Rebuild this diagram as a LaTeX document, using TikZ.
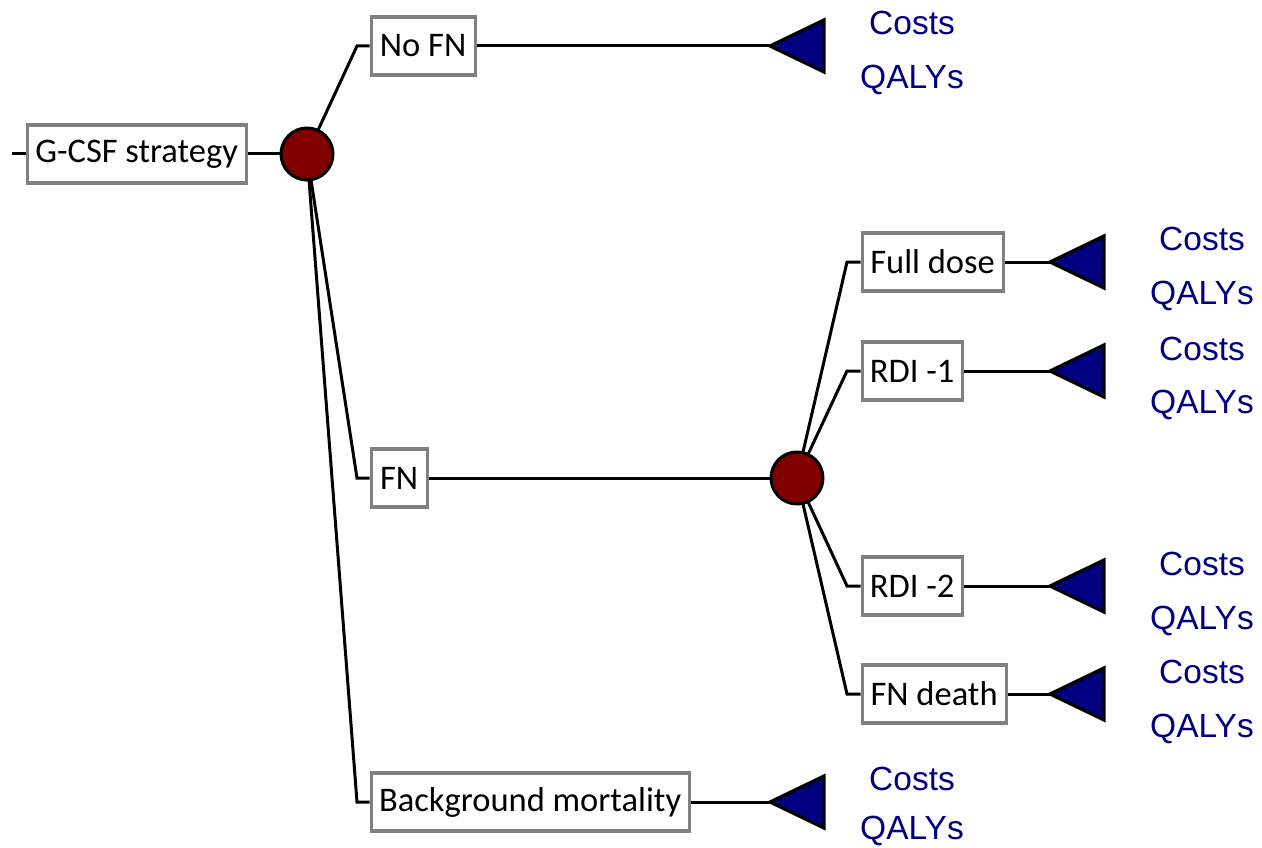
\documentclass[tikz,border=0pt]{standalone}
\usepackage{fontspec}
\setmainfont{Carlito}
\newfontfamily\arialf{Liberation Sans}
\definecolor{navyblue}{HTML}{000080}
\definecolor{chancered}{HTML}{800000}
\definecolor{boxgray}{HTML}{808080}
\pgfdeclarelayer{bglayer}
\pgfsetlayers{bglayer,main}
\begin{document}
\begin{tikzpicture}[x=1pt,y=-1pt,
  lbl/.style={draw=boxgray, line width=3.2pt, fill=white, minimum height=58pt, inner sep=0pt, anchor=west, font=\fontsize{34.5}{40}\selectfont},
  chnode/.style={circle, draw=black, line width=3pt, fill=chancered, minimum size=52pt, inner sep=0pt},
  edge/.style={line width=3pt, black},
  term/.style={draw=black, line width=3.2pt, fill=navyblue, line join=miter},
  outc/.style={font=\arialf\fontsize{33.5}{40}\selectfont, text=navyblue, anchor=base, inner sep=0pt}
]
\useasboundingbox (0,0) rectangle (1262,848);

% root
\coordinate (start) at (12,154);
\node[lbl, minimum width=219pt] (root) at (25.5,154) {G-CSF strategy};
\node[chnode] (c1) at (307,154) {};

% level 1
\coordinate (k1) at (357,46);
\coordinate (k2) at (357,478);
\coordinate (k3) at (357,802);
\node[lbl, minimum width=104pt] (nofn) at (369.5,46) {No FN};
\node[lbl, minimum width=56pt] (fn) at (369.5,478) {FN};
\node[lbl, minimum width=318pt] (bg) at (369.5,802) {Background mortality};
\node[chnode] (c2) at (797,478) {};

% level 2
\coordinate (m1) at (847,262);
\coordinate (m2) at (847,371);
\coordinate (m3) at (847,586);
\coordinate (m4) at (847,694);
\node[lbl, minimum width=141pt] (full) at (860.5,262) {Full dose};
\node[lbl, minimum width=100pt] (rdia) at (860.5,371) {RDI -1};
\node[lbl, minimum width=100pt] (rdib) at (860.5,586) {RDI -2};
\node[lbl, minimum width=144pt] (death) at (860.5,694) {FN death};

% terminal tips
\coordinate (tA) at (770,46);
\coordinate (tB) at (770,802);
\coordinate (tC) at (1050,262);
\coordinate (tD) at (1050,371);
\coordinate (tE) at (1050,586);
\coordinate (tF) at (1050,694);

\begin{pgfonlayer}{bglayer}
\draw[edge] (start) -- (root.west);
\draw[edge] (root.east) -- (c1.center);
\draw[edge] (c1.center) -- (k1) -- (nofn.west);
\draw[edge] (c1.center) -- (k2) -- (fn.west);
\draw[edge] (c1.center) -- (k3) -- (bg.west);
\draw[edge] (fn.east) -- (c2.center);
\draw[edge] (c2.center) -- (m1) -- (full.west);
\draw[edge] (c2.center) -- (m2) -- (rdia.west);
\draw[edge] (c2.center) -- (m3) -- (rdib.west);
\draw[edge] (c2.center) -- (m4) -- (death.west);
\draw[edge] (nofn.east) -- (tA);
\draw[edge] (bg.east) -- (tB);
\draw[edge] (full.east) -- (tC);
\draw[edge] (rdia.east) -- (tD);
\draw[edge] (rdib.east) -- (tE);
\draw[edge] (death.east) -- (tF);
\end{pgfonlayer}

% triangles
\foreach \t in {tA,tB,tC,tD,tE,tF}
  \draw[term] (\t) -- ++(54,-26) -- ++(0,52) -- cycle;

% outcomes
\node[outc] (oA1) at (912,35) {Costs};
\node[outc] (oA2) at (912,89) {QALYs};
\node[outc] (oB1) at (912,790) {Costs};
\node[outc] (oB2) at (912,839) {QALYs};
\node[outc] (oC1) at (1202,251) {Costs};
\node[outc] (oC2) at (1202,304) {QALYs};
\node[outc] (oD1) at (1202,360) {Costs};
\node[outc] (oD2) at (1202,413) {QALYs};
\node[outc] (oE1) at (1202,575) {Costs};
\node[outc] (oE2) at (1202,629) {QALYs};
\node[outc] (oF1) at (1202,683) {Costs};
\node[outc] (oF2) at (1202,737) {QALYs};
\end{tikzpicture}
\end{document}
